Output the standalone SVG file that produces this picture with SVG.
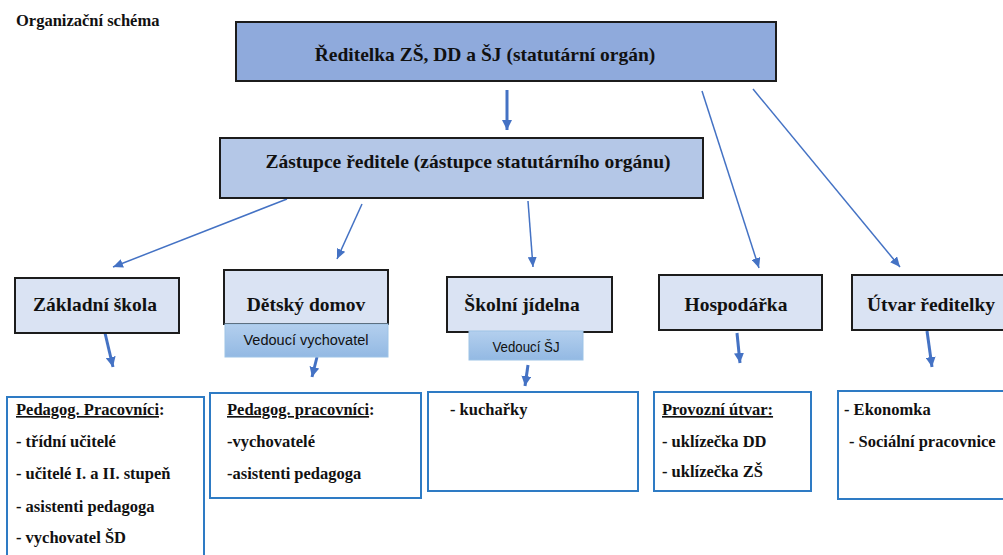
<svg xmlns="http://www.w3.org/2000/svg" width="1003" height="555" viewBox="0 0 1003 555">
<style>
  text { font-family: "Liberation Serif", "Times New Roman", serif; font-weight: bold; fill: #111; }
  .t1 { font-size: 19.5px; text-anchor: middle; }
  .t2 { font-size: 16.5px; }
  .sub { font-family: "Liberation Sans", Arial, sans-serif; font-weight: normal; font-size: 14px; text-anchor: middle; fill: #111; }
  .top { fill: #8FAADC; stroke: #1c1c1c; stroke-width: 2; }
  .dep { fill: #B4C7E7; stroke: #1c1c1c; stroke-width: 2; }
  .unit { fill: #DAE3F3; stroke: #1c1c1c; stroke-width: 2; }
  .subbox { fill: url(#subgrad); stroke: #9DC3E6; stroke-width: 1; }
  .list { fill: #fff; stroke: #2E7BC4; stroke-width: 2; }
  .thin { stroke: #4472C4; stroke-width: 1.5; fill: none; marker-end: url(#ah); }
  .thick { stroke: #4472C4; stroke-width: 3; fill: none; marker-end: url(#ahb); }
  .ul { text-decoration: underline; }
</style>
<defs>
  <linearGradient id="subgrad" x1="0" y1="0" x2="0" y2="1">
    <stop offset="0" stop-color="#B3CFEE"/>
    <stop offset="1" stop-color="#93B9E3"/>
  </linearGradient>
  <marker id="ah" markerUnits="userSpaceOnUse" markerWidth="10" markerHeight="9" refX="10" refY="4.5" orient="auto">
    <path d="M0,0 L10,4.5 L0,9 z" fill="#4472C4"/>
  </marker>
  <marker id="ahb" markerUnits="userSpaceOnUse" markerWidth="10" markerHeight="10" refX="10" refY="5" orient="auto">
    <path d="M0,0 L10,5 L0,10 z" fill="#4472C4"/>
  </marker>
</defs>
<rect width="1003" height="555" fill="#fff"/>

<text class="t2" x="16" y="26">Organizační schéma</text>

<g id="connectors">
  <line class="thick" x1="507" y1="90" x2="507" y2="130"/>
  <line class="thin" x1="702" y1="91" x2="759" y2="268"/>
  <line class="thin" x1="753" y1="89" x2="900" y2="267"/>
  <line class="thin" x1="287" y1="199" x2="113" y2="267"/>
  <line class="thin" x1="362" y1="204" x2="337" y2="259"/>
  <line class="thin" x1="528" y1="201" x2="533" y2="267"/>
  <line class="thick" x1="105" y1="333" x2="113" y2="367"/>
  <line class="thick" x1="317" y1="357" x2="312" y2="377"/>
  <line class="thick" x1="528" y1="365" x2="525" y2="386"/>
  <line class="thick" x1="737" y1="333" x2="740" y2="363"/>
  <line class="thick" x1="927" y1="331" x2="932" y2="367"/>
</g>

<g id="reditelka">
  <rect class="top" x="236" y="22" width="540" height="59"/>
  <text class="t1" x="485" y="61">Ředitelka ZŠ, DD a ŠJ (statutární orgán)</text>
</g>

<g id="zastupce">
  <rect class="dep" x="220" y="138" width="483" height="60"/>
  <text class="t1" x="468" y="168">Zástupce ředitele (zástupce statutárního orgánu)</text>
</g>

<g id="zakladni-skola">
  <rect class="unit" x="15" y="278" width="164" height="55"/>
  <text class="t1" x="95" y="311">Základní škola</text>
</g>

<g id="detsky-domov">
  <rect class="unit" x="224" y="270" width="164" height="54"/>
  <text class="t1" x="306" y="311">Dětský domov</text>
  <rect class="subbox" x="225" y="324" width="163" height="33"/>
  <text class="sub" x="306" y="345" textLength="125" lengthAdjust="spacingAndGlyphs">Vedoucí vychovatel</text>
</g>

<g id="skolni-jidelna">
  <rect class="unit" x="447" y="277" width="165" height="55"/>
  <text class="t1" x="522" y="311">Školní jídelna</text>
  <rect class="subbox" x="469" y="331" width="114" height="29"/>
  <text class="sub" x="526" y="352" textLength="67" lengthAdjust="spacingAndGlyphs">Vedoucí ŠJ</text>
</g>

<g id="hospodarka">
  <rect class="unit" x="659" y="275" width="163" height="55"/>
  <text class="t1" x="736" y="311">Hospodářka</text>
</g>

<g id="utvar-reditelky">
  <rect class="unit" x="852" y="275" width="160" height="55"/>
  <text class="t1" x="931" y="311">Útvar ředitelky</text>
</g>

<g id="zs-list">
  <rect class="list" x="7" y="397" width="197" height="170"/>
  <text class="t2" x="16" y="415"><tspan class="ul">Pedagog. Pracovníci</tspan>:</text>
  <text class="t2" x="16" y="447">- třídní učitelé</text>
  <text class="t2" x="16" y="479">- učitelé I. a II. stupeň</text>
  <text class="t2" x="16" y="512">- asistenti pedagoga</text>
  <text class="t2" x="16" y="543">- vychovatel ŠD</text>
</g>

<g id="dd-list">
  <rect class="list" x="210" y="393" width="211" height="105"/>
  <text class="t2" x="227" y="415"><tspan class="ul">Pedagog. pracovníci</tspan>:</text>
  <text class="t2" x="227" y="447">-vychovatelé</text>
  <text class="t2" x="227" y="479">-asistenti pedagoga</text>
</g>

<g id="sj-list">
  <rect class="list" x="428" y="392" width="210" height="99"/>
  <text class="t2" x="450" y="415">- kuchařky</text>
</g>

<g id="hosp-list">
  <rect class="list" x="654" y="392" width="157" height="99"/>
  <text class="t2" x="662" y="415"><tspan class="ul">Provozní útvar:</tspan></text>
  <text class="t2" x="662" y="447">- uklízečka DD</text>
  <text class="t2" x="662" y="477">- uklízečka ZŠ</text>
</g>

<g id="utvar-list">
  <rect class="list" x="838" y="391" width="175" height="108"/>
  <text class="t2" x="844" y="415">- Ekonomka</text>
  <text class="t2" x="849" y="447">- Sociální pracovnice</text>
</g>
</svg>
